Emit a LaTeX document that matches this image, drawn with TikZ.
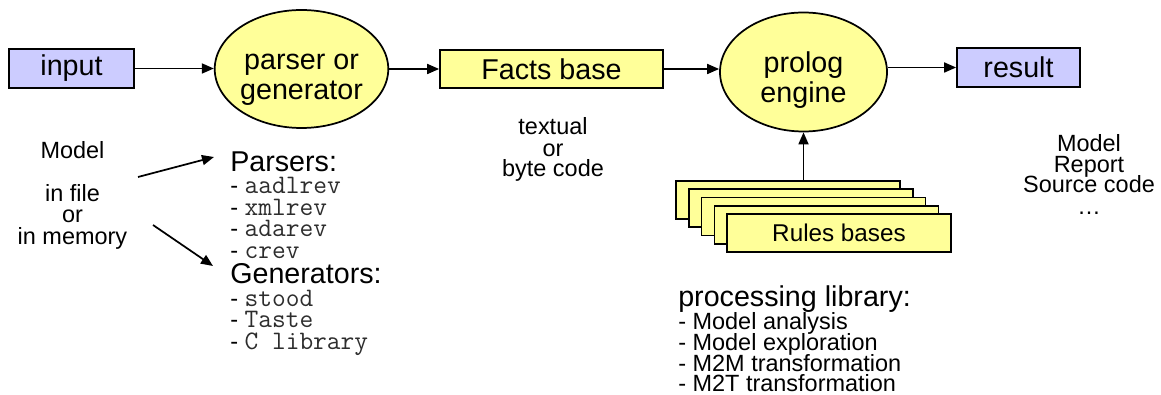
\documentclass[tikz,border=0pt]{standalone}
\usepackage{fontspec}
\setmainfont{Liberation Sans}
\usetikzlibrary{arrows.meta,shapes.geometric}
\definecolor{boxyellow}{RGB}{255,255,153}
\definecolor{boxblue}{RGB}{204,204,255}
\definecolor{codegray}{RGB}{45,45,45}
\newcommand{\topstrut}{\rule{0pt}{29pt}}
\newcommand{\botstrut}{\rule[-6pt]{0pt}{6pt}}
\begin{document}
\begin{tikzpicture}[x=0.75pt,y=-0.75pt,
  arr/.style={line width=1.3pt,-{Triangle[length=9pt,width=7.5pt]}},
  shp/.style={draw,line width=1.3pt,inner sep=0pt},
  yrect/.style={shp,fill=boxyellow,rectangle},
  brect/.style={shp,fill=boxblue,rectangle},
  yell/.style={shp,fill=boxyellow,ellipse,align=center,font=\fontsize{21.5}{22.5}\selectfont},
  bigtxt/.style={font=\fontsize{21.5}{24}\selectfont},
  smalltxt/.style={font=\fontsize{17.6}{20}\selectfont},
  codetxt/.style={font=\fontsize{17.6}{20}\selectfont},
  rbox/.style={yrect,minimum width=168pt,minimum height=28.5pt},
  lbl/.style={inner sep=0pt}
]
\useasboundingbox (0,0) rectangle (1161,395);
% main row
\node[brect,minimum width=93.75pt,minimum height=29.25pt,bigtxt] (input) at (71.5,68.5) {input};
\node[yell,minimum width=125.25pt,minimum height=88.5pt] (parser) at (301.5,69) {\topstrut parser or\\generator\botstrut};
\node[yrect,minimum width=167.25pt,minimum height=28.5pt,bigtxt] (facts) at (551.5,69) {Facts base};
\node[yell,minimum width=125.25pt,minimum height=89.25pt] (prolog) at (803.5,72) {\topstrut prolog\\engine\botstrut};
\node[brect,minimum width=92.25pt,minimum height=29.25pt,bigtxt] (result) at (1018.5,67.5) {result};
\draw[arr] (input.east) -- (parser.west |- input.east);
\draw[arr] (parser.east |- facts.west) -- (facts.west);
\draw[arr] (facts.east) -- (prolog.west |- facts.east);
\draw[arr] (prolog.east |- result.west) -- (result.west);
% rules bases stack
\node[rbox] (rb1) at (788,200) {};
\node[rbox] (rb2) at (801,208) {};
\node[rbox] (rb3) at (813.5,216.5) {};
\node[rbox] (rb4) at (826.5,225) {};
\node[rbox,font=\fontsize{18.2}{20}\selectfont] (rb5) at (839,233) {Rules bases};
\draw[arr] (prolog.south |- rb1.north) -- (prolog.south);
% left texts
\node[lbl,smalltxt,anchor=base] (m1) at (72.5,159) {Model};
\node[lbl,smalltxt,anchor=base] (m2) at (72.5,202) {in file};
\node[lbl,smalltxt,anchor=base] (m3) at (72.5,223) {or};
\node[lbl,smalltxt,anchor=base] (m4) at (72.5,245) {in memory};
\coordinate (a1s) at (138,177);
\coordinate (a1e) at (214,157);
\coordinate (a2s) at (153,225);
\coordinate (a2e) at (213,266);
\draw[arr] (a1s) -- (a1e);
\draw[arr] (a2s) -- (a2e);
% parsers / generators
\newcommand{\code}[1]{{\fontsize{20}{20}\selectfont\ttfamily\color{codegray}#1}}
\node[lbl,bigtxt,anchor=base west] (ph) at (230,172) {Parsers:};
\node[lbl,codetxt,anchor=base west] (p1) at (230,194) {-\ \code{aadlrev}};
\node[lbl,codetxt,anchor=base west] (p2) at (230,216) {-\ \code{xmlrev}};
\node[lbl,codetxt,anchor=base west] (p3) at (230,237) {-\ \code{adarev}};
\node[lbl,codetxt,anchor=base west] (p4) at (230,259) {-\ \code{crev}};
\node[lbl,bigtxt,anchor=base west] (gh) at (230,284) {Generators:};
\node[lbl,codetxt,anchor=base west] (g1) at (230,307) {-\ \code{stood}};
\node[lbl,codetxt,anchor=base west] (g2) at (230,328) {-\ \code{Taste}};
\node[lbl,codetxt,anchor=base west] (g3) at (230,350) {-\ \code{C library}};
% textual
\node[lbl,smalltxt,anchor=base] (t1) at (553,135) {textual};
\node[lbl,smalltxt,anchor=base] (t2) at (553,157) {or};
\node[lbl,smalltxt,anchor=base] (t3) at (553,177) {byte code};
% right
\node[lbl,smalltxt,anchor=base] (r1) at (1089,152) {Model};
\node[lbl,smalltxt,anchor=base] (r2) at (1089,173) {Report};
\node[lbl,smalltxt,anchor=base] (r3) at (1089,193) {Source code};
\node[lbl,smalltxt,anchor=base] (r4) at (1089,215) {\dots};
% processing library
\node[lbl,bigtxt,anchor=base west] (lh) at (678,307) {processing library:};
\node[lbl,smalltxt,anchor=base west] (l1) at (678,330) {- Model analysis};
\node[lbl,smalltxt,anchor=base west] (l2) at (678,351) {- Model exploration};
\node[lbl,smalltxt,anchor=base west] (l3) at (678,372) {- M2M transformation};
\node[lbl,smalltxt,anchor=base west] (l4) at (678,392) {- M2T transformation};
\end{tikzpicture}
\end{document}
